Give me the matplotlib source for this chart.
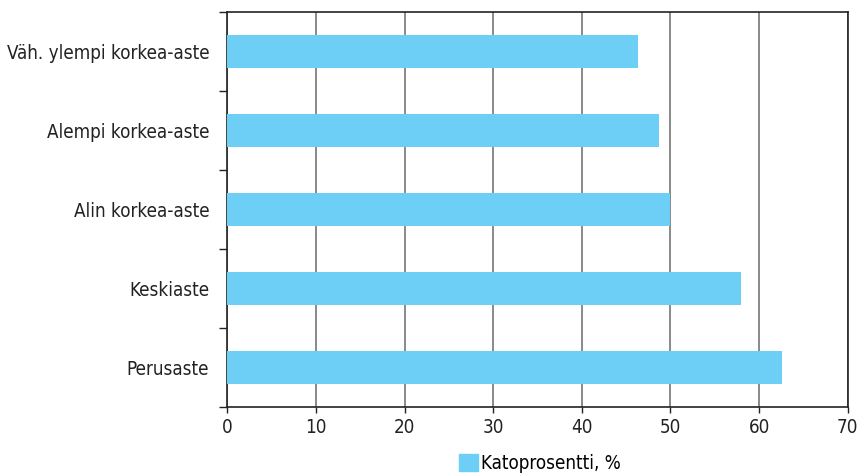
import numpy as np
import matplotlib
matplotlib.use('Agg')
import matplotlib.pyplot as plt
from matplotlib.patches import Patch

plt.rcParams['font.family'] = ['DejaVu Sans']
plt.rcParams['font.stretch'] = 'condensed'

categories = ['Väh. ylempi korkea-aste', 'Alempi korkea-aste', 'Alin korkea-aste',
              'Keskiaste', 'Perusaste']
values = [46.3, 48.7, 49.9, 58.0, 62.6]
series_name = 'Katoprosentti, %'
bar_color = '#6dcff6'

fig = plt.figure(figsize=(8.57, 4.76), dpi=100)
ax = fig.add_axes([0.2652, 0.145, 0.7240, 0.8298])

y = np.arange(len(categories))
ax.barh(y, values, height=0.41, color=bar_color, zorder=3)
ax.set_ylim(len(categories) - 0.5, -0.5)
ax.set_xlim(0, 70)
ax.set_xticks(np.arange(0, 71, 10))
ax.grid(axis='x', color='#808080', linewidth=1.3, zorder=1)
ax.tick_params(axis='x', length=4, width=1, labelsize=13.5, pad=4, color='#222222', labelcolor='#222222')

ax.set_yticks(np.arange(-0.5, len(categories), 1.0))
ax.set_yticklabels([])
ax.tick_params(axis='y', which='major', length=6, width=1, color='#222222')
ax.set_yticks(y, minor=True)
ax.set_yticklabels(categories, minor=True)
ax.tick_params(axis='y', which='minor', length=0, labelsize=13.5, pad=13, labelcolor='#222222')

for s in ax.spines.values():
    s.set_color('#222222')
    s.set_linewidth(1.2)

fig.legend(handles=[Patch(color=bar_color, label=series_name)], loc='center',
           bbox_to_anchor=(0.63, 0.027), frameon=False, fontsize=13.5,
           handlelength=1.0, handleheight=1.0, handletextpad=0.2)

plt.savefig('out.png', dpi=100)
